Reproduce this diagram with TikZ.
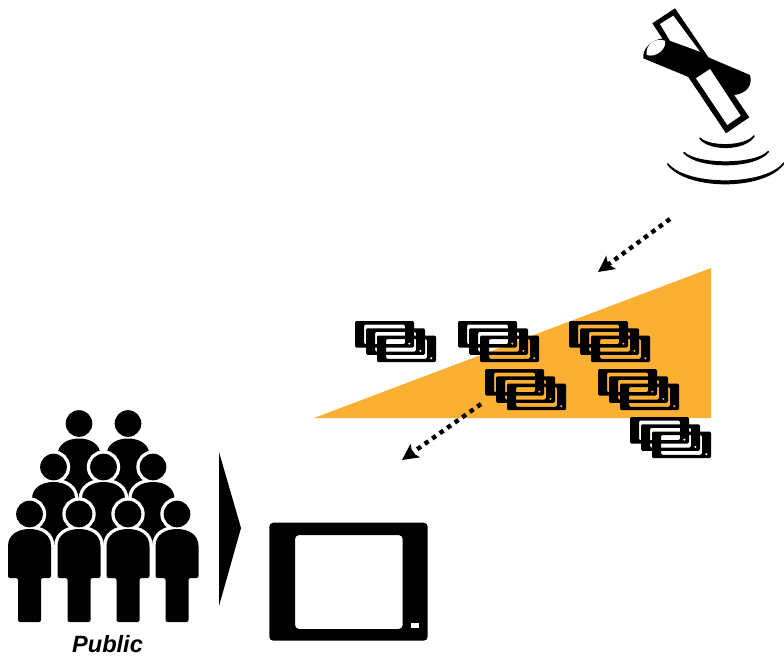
\documentclass[tikz,border=0pt]{standalone}
\usepackage{fontspec}
\setmainfont{Liberation Sans}
\usetikzlibrary{arrows.meta}
\definecolor{wedgeorange}{HTML}{FBB034}
\tikzset{
  signalarr/.style={
    -{Stealth[length=12pt,width=12pt,inset=2.5pt]}, line width=3.3pt,
    dash pattern=on 3.4pt off 3.5pt, black
  },
  wave/.style={
    draw=black, fill=black, line width=1.2pt, line cap=round, line join=round
  },
  crowdlabel/.style={
    font=\fontsize{17.7}{20}\selectfont\bfseries\itshape, anchor=base
  },
  pics/device/.style={
    code={
      \fill[even odd rule, rounded corners=1pt] (0,0) rectangle (59,26.5)
        (9,3.5) rectangle (50,23.2) (52.7,21.5) rectangle (56,23.7);
    }
  },
  pics/devstack/.style={
    code={
      \pic at (0,0) {device};
      \pic at (11,7.3) {device};
      \pic at (22,14.6) {device};
    }
  },
  pics/person/.style={
    code={
      \path[preaction={draw=white, line width=5pt}, fill=black]
        (0,0) circle[radius=10pt]
        (0,15) .. controls (12,15) and (21.5,21) .. (21.5,32)
        [rounded corners=1.5pt] -- (21.5,64) -- (11.5,64) -- (11.5,108) -- (-11.5,108) -- (-11.5,64) -- (-21.5,64)
        [sharp corners] -- (-21.5,32) .. controls (-21.5,21) and (-12,15) .. (0,15) -- cycle;
    }
  }
}
\begin{document}
\begin{tikzpicture}[x=0.75pt,y=-0.75pt]
\useasboundingbox (0,0) rectangle (784,657);

% coverage wedge
\fill[wedgeorange] (314,418) -- (711,268) -- (711,418) -- cycle;

% devices
\foreach \x/\y in {355/321,458/321,569/321,485/369,598/369,630/417}
  \pic at (\x,\y) {devstack};

% satellite
\fill (652.3,23.3) -- (675,8.3) -- (749.3,117.3) -- (726,133.3) -- cycle;
\fill (663.3,38.3) -- (750,75) .. controls (753,86) and (746,93) .. (735,95)
  -- (691.7,78.3) -- (643.3,58.3) .. controls (642,50) and (650,40) .. (663.3,38.3) -- cycle;
\fill[white] (660,24) -- (673.3,15.7) -- (700,51.7) -- (670,40.7) -- cycle;
\fill[white] (696,78.3) -- (710,69) -- (740.7,115.7) -- (727.3,125) -- cycle;
\fill[white] (646.7,55) .. controls (645,45) and (655,37) .. (665,40.7)
  .. controls (667,49) and (656,58) .. (646.7,55) -- cycle;
\path[wave] (700,138.3) .. controls (709,147.4) and (745,147.4) .. (754,136)
  .. controls (745,150.6) and (709,150.6) .. (700,138.3) -- cycle;
\path[wave] (684,152.7) .. controls (698,165.4) and (755,165.4) .. (768.3,151.7)
  .. controls (755,168.6) and (698,168.6) .. (684,152.7) -- cycle;
\path[wave] (667.7,164) .. controls (687,187) and (765,187) .. (784,163)
  .. controls (765,190.2) and (687,190.2) .. (667.7,164) -- cycle;

% public
\foreach \x in {79,128}
  \pic at (\x,423.5) {person};
\foreach \x in {53.5,103.5,153}
  \pic at (\x,467) {person};
\foreach \x in {29.5,79,128,177}
  \pic at (\x,514) {person};
\node[crowdlabel] (public) at (107.5,652) {Public};
\fill (219,452) -- (241,528) -- (219,606) -- cycle;

% screen
\fill[even odd rule, rounded corners=3pt] (269.3,522.7) rectangle (427.7,640.7)
  (295,535) rectangle (402.7,629);
\fill[white] (411,622.7) rectangle (419,628);

% arrows
\coordinate (downfrom) at (670,219);
\coordinate (downto) at (598,272);
\coordinate (upfrom) at (481,404);
\coordinate (upto) at (402,460);
\draw[signalarr] (downfrom) -- (downto);
\draw[signalarr] (upfrom) -- (upto);
\end{tikzpicture}
\end{document}
